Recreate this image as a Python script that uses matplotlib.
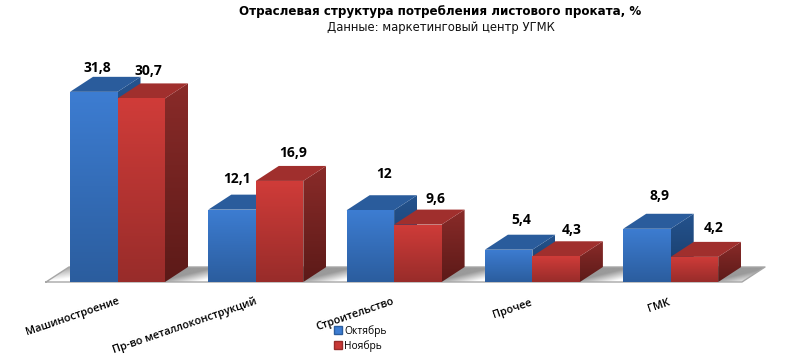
import numpy as np
import matplotlib
matplotlib.use("Agg")
import matplotlib.pyplot as plt
from matplotlib.patches import Polygon, Patch
from matplotlib.colors import LinearSegmentedColormap as LSC

categories = ["Машиностроение", "Пр-во металлоконструкций", "Строительство", "Прочее", "ГМК"]
october = [31.8, 12.1, 12, 5.4, 8.9]
november = [30.7, 16.9, 9.6, 4.3, 4.2]
oct_labels = ["31,8", "12,1", "12", "5,4", "8,9"]
nov_labels = ["30,7", "16,9", "9,6", "4,3", "4,2"]
# label centres relative to bar top, in pixels (x right, y up)
oct_nudge = [(27, 24), (29, 31), (37, 36), (36, 30), (36, 33)]
nov_nudge = [(31, 27), (37, 28), (41, 26), (39, 26), (43, 29)]

W, H = 800, 359
px_x, px_y = 138.3, 5.98
x0, y0 = 117.5, 282
dx, dy = 23 / px_x, 15 / px_y
bw = 47.5 / px_x

fig = plt.figure(figsize=(W / 100, H / 100), dpi=100)
ax = fig.add_axes([0, 0, 1, 1])
ax.axis("off")


def set_limits():
    ax.set_xlim(-x0 / px_x, (W - x0) / px_x)
    ax.set_ylim(-(H - y0) / px_y, y0 / px_y)


def grad(poly, top, bottom, z):
    cmap = LSC.from_list("g", [top, bottom])
    arr = np.linspace(0, 1, 256).reshape(-1, 1)
    xs, ys = zip(*poly)
    im = ax.imshow(arr, cmap=cmap, extent=(min(xs), max(xs), min(ys), max(ys)),
                   origin="upper", aspect="auto", zorder=z, vmin=0, vmax=1)
    p = Polygon(poly, closed=True, transform=ax.transData, fc="none", ec="none")
    ax.add_patch(p)
    im.set_clip_path(p)


# floor with soft shadows between the bars
left_front = (46 - x0) / px_x
right_front = (742 - x0) / px_x
floor = [(left_front, 0), (right_front, 0), (right_front + dx, dy), (left_front + dx, dy)]
floor_patch = Polygon(floor, closed=True, fc="white", ec="none", zorder=1)
ax.add_patch(floor_patch)
shade = LSC.from_list("s", ["#ffffff", "#9a9a9a"])
starts = [left_front - 0.5] + [i + bw for i in range(len(categories))]
ends = [-bw] + [i + 1 - bw for i in range(len(categories) - 1)] + [right_front + dx]
for s, e in zip(starts, ends):
    xs = np.linspace(s, e + dx, 200)
    ys = np.linspace(0, dy, 40)
    X, Y = np.meshgrid(xs, ys)
    v = Y / dy
    u = (X - s - dx * v) / (e - s)
    a = np.clip(v * 0.9 + (1 - u) * 1.1 - 0.3, 0, 1)
    im = ax.imshow(a, cmap=shade, extent=(s, e + dx, 0, dy), origin="lower", aspect="auto",
                   zorder=1.1, vmin=0, vmax=1)
    im.set_clip_path(floor_patch)
ax.plot([left_front, left_front + dx, right_front + dx, right_front, left_front],
        [0, dy, dy, 0, 0], color="#a6a6a6", lw=1, zorder=1.5)

styles = [
    dict(vals=october, off=-bw, front=("#3d7dd2", "#2b5d9e"), side=("#24538e", "#183a66"),
         top="#2a5c9c", labels=oct_labels, nudge=oct_nudge),
    dict(vals=november, off=0, front=("#d03c39", "#982c2a"), side=("#8a2b29", "#5c1a18"),
         top="#a02f2d", labels=nov_labels, nudge=nov_nudge),
]
z = 2
for i in range(len(categories)):
    for s in styles:
        v = s["vals"][i]
        l = i + s["off"]
        r = l + bw
        side = [(r, 0), (r + dx, dy), (r + dx, v + dy), (r, v)]
        grad(side, s["side"][0], s["side"][1], z)
        top = [(l, v), (r, v), (r + dx, v + dy), (l + dx, v + dy)]
        ax.add_patch(Polygon(top, closed=True, fc=s["top"], ec="none", zorder=z))
        ax.bar(l, v, bw, align="edge", color=s["front"][0], zorder=z + 0.05)
        grad([(l, 0), (r, 0), (r, v), (l, v)], s["front"][0], s["front"][1], z + 0.1)
        z += 0.2
        nx, ny = s["nudge"][i]
        ax.text(l + nx / px_x, v + ny / px_y, s["labels"][i], ha="center", va="center",
                fontsize=10, fontweight="bold", family="Open Sans", color="black", zorder=20)

set_limits()

fig.text(440.5 / W, 1 - 11 / H, "Отраслевая структура потребления листового проката, %",
         ha="center", va="center", fontsize=8.55, fontweight="bold", color="black")
fig.text(440.5 / W, 1 - 27 / H, "Данные: маркетинговый центр УГМК",
         ha="center", va="center", fontsize=8.4, color="#111111")

anchors = [(117, 296), (255, 296), (392, 296), (530, 297), (668, 297)]
for name, (px, py) in zip(categories, anchors):
    fig.text(px / W, 1 - py / H, name, rotation=19, rotation_mode="anchor", ha="right", va="top",
             fontsize=7.8, fontweight="semibold", family="Open Sans", color="black")

handles = [Patch(fc="#3d7dd2", ec="#2b5d9e"), Patch(fc="#c83836", ec="#982c2a")]
fig.legend(handles, ["Октябрь", "Ноябрь"], loc="center left", bbox_to_anchor=(334 / W, 1 - 338.5 / H),
           frameon=False, prop=dict(family="Open Sans", size=7.4), handlelength=0.8, handleheight=0.8,
           handletextpad=0.2, labelspacing=0.3, borderpad=0, borderaxespad=0)

fig.savefig("out.png", dpi=100)
